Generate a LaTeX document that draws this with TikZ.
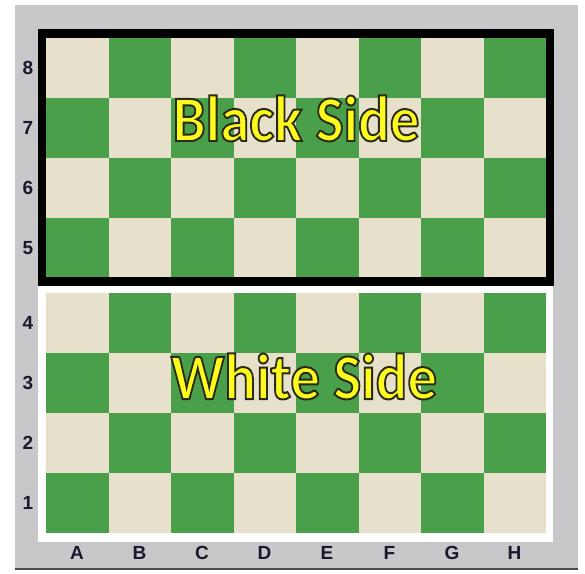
\documentclass[tikz,border=0pt]{standalone}
\usepackage{fontspec}
\setsansfont{Liberation Sans}
\newfontfamily\sidefont{Carlito}
\definecolor{boardgreen}{RGB}{74,159,74}
\definecolor{boardcream}{RGB}{231,225,203}
\definecolor{panelgray}{RGB}{200,200,202}
\definecolor{labelink}{RGB}{25,25,45}
\definecolor{sideyellow}{RGB}{252,250,30}
% yellow letters with a dark edge (fill and stroke)
\newcommand\edged[1]{\special{pdf:literal direct 2 Tr 1.8 w 0.16 0.16 0.08 RG}#1\special{pdf:literal direct 0 Tr}}

\begin{document}
\begin{tikzpicture}[x=1pt,y=-1pt]
        \tikzset{BoardLabel/.style={font=\sffamily\bfseries\fontsize{19}{19}\selectfont, text=labelink},
        SideLabel/.style={font=\sidefont\bfseries\fontsize{59}{59}\selectfont, text=sideyellow, inner sep=0pt, anchor=base}}
        \useasboundingbox (0,0) rectangle (585,573);
        \fill[white] (0,0) rectangle (585,573);
        \fill[panelgray] (15,5) rectangle (578,570);
        \draw[gray!60!black, line width=2] (15,569) -- (578,569);
        \fill[white] (38,286) rectangle (553,542);
        \foreach \c in {1,...,8}{
          \foreach \r in {1,...,8}{
            \pgfmathsetmacro\xa{46+62.5*(\c-1)}
            \pgfmathsetmacro\ya{\r>4 ? 38+60*(8-\r) : 293+60*(4-\r)}
            \pgfmathtruncatemacro\s{mod(\c+\r,2)}
            \ifnum\s=0 \def\sqcol{boardgreen}\else\def\sqcol{boardcream}\fi
            \fill[\sqcol] (\xa,\ya) rectangle ++(62.5,60);
          }
        }
        \draw[line width=8.5] (42,33.5) rectangle (550,281.5);
        \foreach \r/\y in {8/68,7/128,6/188,5/248,4/323,3/383,2/443,1/503}
          \node[BoardLabel] (rank\r) at (28,\y) {\r};
        \foreach \f [count=\i] in {A,B,C,D,E,F,G,H}
          \node[BoardLabel] (file\f) at ({77+62.5*(\i-1)},553) {\f};
        \node[SideLabel] (black) at (296,141) {\scalebox{1}[1.1]{\edged{Black Side}}};
        \node[SideLabel] (white) at (304,399) {\scalebox{1}[1.1]{\edged{White Side}}};
    \end{tikzpicture}
\end{document}
